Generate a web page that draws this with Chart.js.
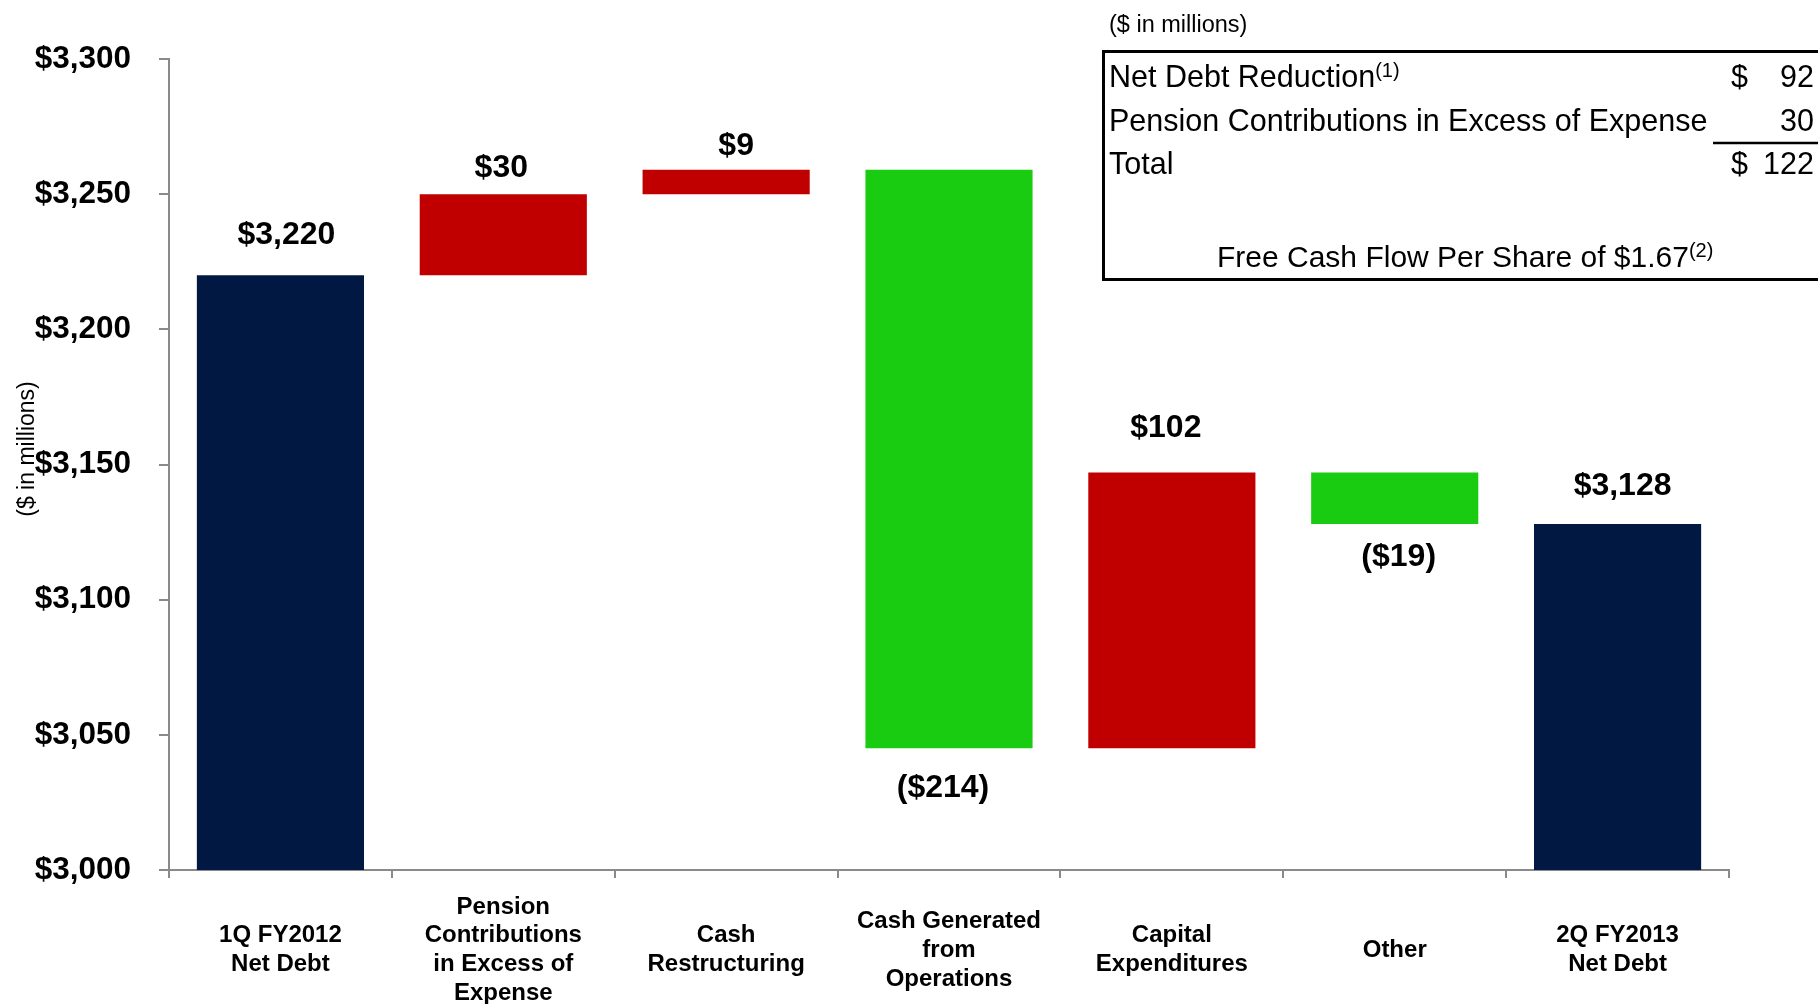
<!DOCTYPE html>
<html>
<head>
<meta charset="utf-8">
<title>Net Debt Bridge</title>
<script src="https://cdn.jsdelivr.net/npm/chart.js@4.4.1/dist/chart.umd.min.js"></script>
<style>
  html, body { margin: 0; padding: 0; background: #ffffff; }
  #wrap { position: relative; width: 1818px; height: 1004px; }
  canvas { display: block; }
</style>
</head>
<body>
<div id="wrap"><canvas id="bridge" width="1818" height="1004"></canvas></div>
<script>
// ---- data ($ in millions) ----
const categories = [
  ['1Q FY2012', 'Net Debt'],
  ['Pension', 'Contributions', 'in Excess of', 'Expense'],
  ['Cash', 'Restructuring'],
  ['Cash Generated', 'from', 'Operations'],
  ['Capital', 'Expenditures'],
  ['Other'],
  ['2Q FY2013', 'Net Debt']
];
// first and last entries are balances, the rest are movements
const barKinds = ['total', 'delta', 'delta', 'delta', 'delta', 'delta', 'total'];
const barValues = [3220, 30, 9, -214, 102, -19, 3128];
const valueLabels = ['$3,220', '$30', '$9', '($214)', '$102', '($19)', '$3,128'];

const yTickValues = [3000, 3050, 3100, 3150, 3200, 3250, 3300];
const yTickLabels = ['$3,000', '$3,050', '$3,100', '$3,150', '$3,200', '$3,250', '$3,300'];

const summaryRows = ['Net Debt Reduction', 'Pension Contributions in Excess of Expense', 'Total'];
const summaryValues = [92, 30, 122];
const freeCashFlowPerShare = '$1.67';

// ---- styling ----
const FONT = '"Liberation Sans", Arial, Helvetica, sans-serif';
const NAVY = '#001842';
const RED = '#C00000';
const GREEN = '#19CC12';
const AXIS_GREY = '#8a8a8a';
// nudges for the value labels: horizontal shift and distance from the bar edge
const labelDx = [6, -2, 10, -6, -6, 4, 5];
const labelGap = [40, 26, 24, 40, 44, 33, 38];

// floating ranges for the waterfall, built from the running balance
const ranges = [];
const colors = [];
let running = 0;
barValues.forEach((v, i) => {
  if (barKinds[i] === 'total') {
    ranges.push([yTickValues[0], v]);
    colors.push(NAVY);
    running = v;
  } else {
    ranges.push([running, running + v]);
    colors.push(v >= 0 ? RED : GREEN);
    running += v;
  }
});

const annotations = {
  id: 'bridgeAnnotations',
  afterDatasetsDraw(chart) {
    const ctx = chart.ctx;
    const meta = chart.getDatasetMeta(0);
    ctx.save();
    ctx.fillStyle = '#000';
    ctx.font = 'bold 32px ' + FONT;
    ctx.textAlign = 'center';
    ctx.textBaseline = 'middle';
    meta.data.forEach((bar, i) => {
      const top = Math.min(bar.y, bar.base);
      const bottom = Math.max(bar.y, bar.base);
      const below = barKinds[i] === 'delta' && barValues[i] < 0;
      const y = below ? bottom + labelGap[i] : top - labelGap[i];
      ctx.fillText(valueLabels[i], bar.x + labelDx[i], y);
    });
    ctx.restore();
  },
  afterDraw(chart) {
    const ctx = chart.ctx;
    ctx.save();
    ctx.fillStyle = '#000';

    // vertical axis caption
    ctx.save();
    ctx.translate(28, 449);
    ctx.rotate(-Math.PI / 2);
    ctx.font = '23px ' + FONT;
    ctx.textAlign = 'center';
    ctx.textBaseline = 'middle';
    ctx.fillText('($ in millions)', 0, 0);
    ctx.restore();

    // summary box
    ctx.textBaseline = 'alphabetic';
    ctx.textAlign = 'left';
    ctx.font = '23.5px ' + FONT;
    ctx.fillText('($ in millions)', 1109, 32);

    ctx.strokeStyle = '#000';
    ctx.lineWidth = 3;
    ctx.beginPath();
    ctx.moveTo(1818, 51.5);
    ctx.lineTo(1103.5, 51.5);
    ctx.lineTo(1103.5, 279.5);
    ctx.lineTo(1818, 279.5);
    ctx.stroke();

    const rowBase = [87, 131, 174];
    summaryRows.forEach((txt, i) => {
      ctx.textAlign = 'left';
      ctx.font = '30.5px ' + FONT;
      ctx.fillText(txt, 1109, rowBase[i]);
      if (i === 0) {
        const w = ctx.measureText(txt).width;
        ctx.font = '20px ' + FONT;
        ctx.fillText('(1)', 1109 + w, rowBase[i] - 10);
        ctx.font = '30.5px ' + FONT;
      }
      if (i !== 1) ctx.fillText('$', 1731, rowBase[i]);
      ctx.textAlign = 'right';
      ctx.fillText(String(summaryValues[i]), 1814, rowBase[i]);
    });

    ctx.lineWidth = 2.5;
    ctx.beginPath();
    ctx.moveTo(1713, 143);
    ctx.lineTo(1818, 143);
    ctx.stroke();

    ctx.textAlign = 'left';
    ctx.font = '30px ' + FONT;
    const fcf = 'Free Cash Flow Per Share of ' + freeCashFlowPerShare;
    ctx.fillText(fcf, 1217, 267);
    const fw = ctx.measureText(fcf).width;
    ctx.font = '20px ' + FONT;
    ctx.fillText('(2)', 1217 + fw, 257);

    ctx.restore();
  }
};

new Chart(document.getElementById('bridge').getContext('2d'), {
  type: 'bar',
  data: {
    labels: categories,
    datasets: [{
      data: ranges,
      backgroundColor: colors,
      borderWidth: 0,
      borderSkipped: false,
      barPercentage: 0.75,
      categoryPercentage: 1
    }]
  },
  options: {
    responsive: false,
    animation: false,
    devicePixelRatio: 1,
    layout: { padding: { top: 59, right: 89, bottom: 0, left: 0 } },
    plugins: {
      legend: { display: false },
      tooltip: { enabled: false }
    },
    scales: {
      x: {
        z: 1,
        offset: true,
        grid: {
          offset: true,
          drawOnChartArea: false,
          drawTicks: true,
          tickLength: 8,
          color: AXIS_GREY,
          lineWidth: 2
        },
        border: { display: true, color: AXIS_GREY, width: 2 },
        ticks: {
          color: '#000',
          font: { family: FONT, size: 24, weight: 'bold', lineHeight: 1.2 },
          padding: 29,
          maxRotation: 0,
          minRotation: 0,
          autoSkip: false,
          crossAlign: 'center'
        },
        afterFit(scale) { scale.height = 134; }
      },
      y: {
        min: yTickValues[0],
        max: yTickValues[yTickValues.length - 1],
        afterBuildTicks(scale) {
          scale.ticks = yTickValues.map(v => ({ value: v }));
        },
        grid: {
          drawOnChartArea: false,
          drawTicks: true,
          tickLength: 10,
          color: AXIS_GREY,
          lineWidth: 2
        },
        border: { display: true, color: AXIS_GREY, width: 2 },
        ticks: {
          color: '#000',
          font: { family: FONT, size: 31.5, weight: 'bold' },
          padding: 28,
          callback(value) {
            const idx = yTickValues.indexOf(value);
            return idx >= 0 ? yTickLabels[idx] : '';
          }
        },
        afterFit(scale) { scale.width = 169; }
      }
    }
  },
  plugins: [annotations]
});
</script>
</body>
</html>
